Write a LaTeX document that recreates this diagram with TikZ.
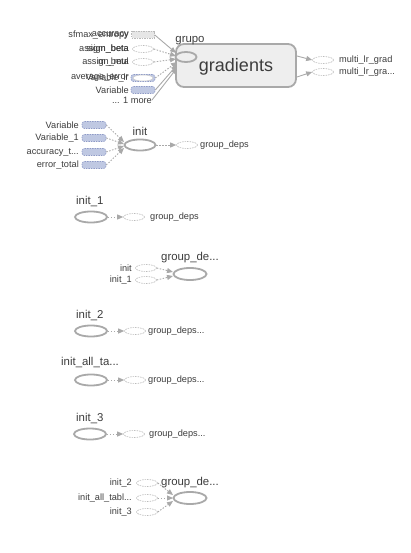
\documentclass[tikz,border=0pt]{standalone}
\usepackage{fontspec}
\setmainfont{Liberation Sans}
\usetikzlibrary{shapes.geometric,arrows.meta}
\definecolor{edgec}{HTML}{A9A9A9}
\definecolor{txtc}{HTML}{3C3C3C}
\definecolor{varfill}{HTML}{BFC8E2}
\definecolor{vardraw}{HTML}{8E9AC6}
\definecolor{metafill}{HTML}{EEEEEE}
\definecolor{constfill}{HTML}{E6E6E6}
\begin{document}
\begin{tikzpicture}[x=1pt,y=-1pt,
  lbl/.style={font=\fontsize{9.2}{10}\selectfont, text=txtc, inner sep=0},
  hdr/.style={font=\fontsize{11.4}{12}\selectfont, text=txtc, inner sep=0},
  opell/.style={ellipse, draw=edgec, line width=1.8pt, fill=white, inner sep=0, minimum width=31, minimum height=11},
  dell/.style={ellipse, draw=edgec!80, line width=0.6pt, dash pattern=on 1.5pt off 1pt, fill=white, inner sep=0, minimum width=21, minimum height=7},
  varbox/.style={rectangle, rounded corners=2.5, draw=vardraw, line width=0.6pt, dash pattern=on 1.5pt off 1pt, fill=varfill, inner sep=0, minimum width=24, minimum height=7},
  constbox/.style={rectangle, draw=edgec!80, line width=0.6pt, dash pattern=on 1.5pt off 1pt, fill=constfill, inner sep=0, minimum width=23, minimum height=7},
  arr/.style={draw=edgec, line width=0.9pt, -{Triangle[length=6pt,width=5pt]}},
  darr/.style={arr, dash pattern=on 1.5pt off 1.5pt},
]
\useasboundingbox (0,0) rectangle (411,553);

% ---------- gradients block ----------
\node[rectangle, rounded corners=8, draw=edgec, line width=1.8pt, fill=metafill, minimum width=120, minimum height=43, inner sep=0] (grad) at (236,65.5) {};
\node[font=\fontsize{18}{20}\selectfont, text=txtc, inner sep=0] (gradtxt) at (236,67) {gradients};
\node[ellipse, draw=edgec, line width=1.8pt, fill=metafill, inner sep=0, minimum width=21, minimum height=10] (grupo) at (186,57) {};
\node[hdr] (grupolbl) at (190,41) {grupo};

\node[constbox] (i1) at (143,35) {};
\node[dell] (i2) at (143,49) {};
\node[dell] (i3) at (143,62) {};
\node[varbox] (i4) at (143,78) {};
\node[ellipse, draw=edgec!60, line width=0.5pt, fill=white, inner sep=0, minimum width=20, minimum height=6] (i4b) at (143,78) {};
\node[varbox] (i5) at (143,90) {};
\node[lbl, anchor=east] (i6) at (152,100) {... 1 more};

\node[lbl, anchor=east] (l1a) at (129,35) {sfmax\_entropy};
\node[lbl, anchor=east] (l1b) at (129,35) {accuracy};
\node[lbl, anchor=east] (l2a) at (129,49) {assign\_beta};
\node[lbl, anchor=east] (l2b) at (129,49) {sigm\_beta};
\node[lbl, anchor=east] (l3a) at (129,62) {assign\_mul};
\node[lbl, anchor=east] (l3b) at (129,62) {m\_beta};
\node[lbl, anchor=east] (l4a) at (129,78) {average\_error};
\node[lbl, anchor=east] (l4b) at (129,78) {Variable\_lr};
\node[lbl, anchor=east] (l5) at (129,90) {Variable};

\coordinate (g1) at (176,53);
\coordinate (g2) at (176,56);
\coordinate (g3) at (176,59);
\coordinate (g4) at (177,62);
\coordinate (g5) at (177,65);
\coordinate (g6) at (177,68);
\draw[arr] (i1.east) -- (g1);
\draw[darr] (i2.east) -- (g2);
\draw[darr] (i3.east) -- (g3);
\draw[darr] (i4.east) -- (g4);
\draw[arr] (i5.east) -- (g5);
\draw[arr] (i6.east) -- (g6);

\node[dell] (o1) at (323,60) {};
\node[dell] (o2) at (323,72) {};
\node[lbl, anchor=west] (ol1) at (339,60) {multi\_lr\_grad};
\node[lbl, anchor=west] (ol2) at (339,72.5) {multi\_lr\_gra...};
\coordinate (go1) at (297,56);
\coordinate (go2) at (297,77);
\draw[arr] (go1) -- (o1.west);
\draw[arr] (go2) -- (o2.west);

% ---------- init block ----------
\node[varbox] (v1) at (94,125) {};
\node[varbox] (v2) at (94,138) {};
\node[varbox] (v3) at (94,152) {};
\node[varbox] (v4) at (94,165) {};
\node[lbl, anchor=east] (vl1) at (79,125) {Variable};
\node[lbl, anchor=east] (vl2) at (79,138) {Variable\_1};
\node[lbl, anchor=east] (vl3) at (79,152) {accuracy\_t...};
\node[lbl, anchor=east] (vl4) at (79,165) {error\_total};
\node[opell] (init) at (140,145) {};
\node[hdr] (initlbl) at (140,131) {init};
\coordinate (ci1) at (124,142);
\coordinate (ci2) at (124,144);
\coordinate (ci3) at (124,146);
\coordinate (ci4) at (124,148);
\draw[darr] (v1.east) -- (ci1);
\draw[darr] (v2.east) -- (ci2);
\draw[darr] (v3.east) -- (ci3);
\draw[darr] (v4.east) -- (ci4);
\node[dell] (gd0) at (187,145) {};
\node[lbl, anchor=west] (gd0l) at (200,145.5) {group\_deps};
\draw[darr] (init.east) -- (gd0.west);

% ---------- init_1 ----------
\node[hdr, anchor=west] (i1lbl) at (76,202) {init\_1};
\node[opell, minimum width=32] (init1) at (91,217) {};
\node[dell] (gd1) at (134,217) {};
\node[lbl, anchor=west] (gd1l) at (150,217.5) {group\_deps};
\draw[darr] (init1.east) -- (gd1.west);

% ---------- group_de... (1) ----------
\node[hdr] (gda_lbl) at (190,258) {group\_de...};
\node[opell, minimum width=33, minimum height=12] (gda) at (190,274) {};
\node[dell] (ga1) at (146,268) {};
\node[dell] (ga2) at (146,280) {};
\node[lbl, anchor=east] (ga1l) at (132,268) {init};
\node[lbl, anchor=east] (ga2l) at (132,280) {init\_1};
\coordinate (cga1) at (173,272);
\coordinate (cga2) at (173,276);
\draw[darr] (ga1.east) -- (cga1);
\draw[darr] (ga2.east) -- (cga2);

% ---------- init_2 ----------
\node[hdr, anchor=west] (i2lbl) at (76,315) {init\_2};
\node[opell, minimum width=32] (init2) at (91,331) {};
\node[dell] (gd2) at (135,331) {};
\node[lbl, anchor=west] (gd2l) at (148,331.5) {group\_deps...};
\draw[darr] (init2.east) -- (gd2.west);

% ---------- init_all_ta... ----------
\node[hdr, anchor=west] (ialbl) at (61,362) {init\_all\_ta...};
\node[opell, minimum width=32] (initall) at (91,380) {};
\node[dell] (gd3) at (135,380) {};
\node[lbl, anchor=west] (gd3l) at (148,380.5) {group\_deps...};
\draw[darr] (initall.east) -- (gd3.west);

% ---------- init_3 ----------
\node[hdr, anchor=west] (i3lbl) at (76,418) {init\_3};
\node[opell, minimum width=32] (init3) at (90,434) {};
\node[dell] (gd4) at (134,434) {};
\node[lbl, anchor=west] (gd4l) at (149,434.5) {group\_deps...};
\draw[darr] (init3.east) -- (gd4.west);

% ---------- group_de... (2) ----------
\node[hdr] (gdb_lbl) at (190,483) {group\_de...};
\node[opell, minimum width=33, minimum height=12] (gdb) at (190,498) {};
\node[dell] (gb1) at (147,483) {};
\node[dell] (gb2) at (147,498) {};
\node[dell] (gb3) at (147,512) {};
\node[lbl, anchor=east] (gb1l) at (132,483) {init\_2};
\node[lbl, anchor=east] (gb2l) at (132,498) {init\_all\_tabl...};
\node[lbl, anchor=east] (gb3l) at (132,512) {init\_3};
\coordinate (cgb1) at (173,495);
\coordinate (cgb2) at (173,498);
\coordinate (cgb3) at (173,501);
\draw[darr] (gb1.east) -- (cgb1);
\draw[darr] (gb2.east) -- (cgb2);
\draw[darr] (gb3.east) -- (cgb3);
\end{tikzpicture}
\end{document}
